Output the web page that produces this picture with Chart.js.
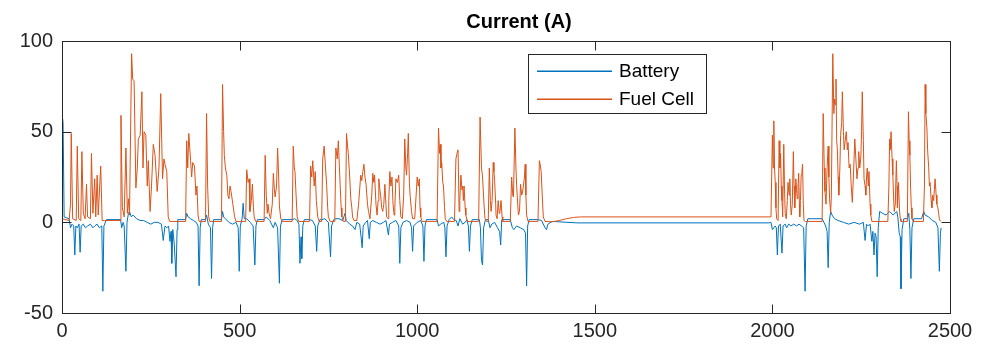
<!DOCTYPE html>
<html>
<head>
<meta charset="utf-8">
<script src="https://cdn.jsdelivr.net/npm/chart.js@4"></script>
<style>html,body{margin:0;padding:0;background:#fff}</style>
</head>
<body>
<canvas id="currentChart" width="997" height="347"></canvas>
<script>
// current traces (time, amps)
const fcTime = [0,20,24,26,30,40,43,47,53,56,60,65,69,72,80,83,87,92,95,99,102,109,113,120,165,166,170,175,180,184,187,190,196,199,203,208,212,215,220,225,228,231,236,240,243,248,252,257,262,268,273,278,283,287,290,295,299,303,
  348,351,354,357,362,365,368,373,377,380,383,386,404,407,410,413,416,449,452,455,457,460,464,467,470,473,476,481,486,490,
  517,520,524,527,529,533,536,539,541,545,569,572,575,578,580,583,587,592,595,598,600,604,607,610,612,616,620,648,651,654,656,659,662,666,
  697,700,703,706,710,713,716,720,724,731,734,738,742,745,748,750,755,768,771,775,778,781,783,786,788,792,798,801,804,806,810,813,816,818,822,
  830,835,841,844,847,850,853,856,860,863,867,872,875,878,880,884,887,890,892,895,897,900,903,906,909,912,914,918,920,923,926,929,932,935,937,940,944,948,951,954,958,962,965,968,970,973,975,978,980,984,987,993,997,1000,1003,1006,1008,1010,1014,
  1056,1060,1063,1065,1067,1069,1072,1074,1077,1079,1083,1105,1109,1112,1115,1118,1120,1123,1126,1128,1130,1132,1135,1137,1141,1173,1177,1181,1184,1188,1191,1195,
  1200,1203,1206,1208,1211,1214,1216,1218,1221,1222,1225,1228,1231,1233,1236,1239,1241,1262,1266,1269,1271,1275,1278,1280,1283,1285,1288,1291,1294,1296,1299,1302,1304,1306,1308,1312,1340,1344,1347,1349,1352,1355,1360,
  1380,1400,1420,1440,1460,1996,
  2000,2002,2004,2006,2008,2010,2012,2016,2019,2021,2023,2025,2027,2029,2032,2034,2036,2039,2042,2044,2047,2049,2051,2053,2056,2059,2061,2063,2066,2068,2070,2072,2074,2076,2077,2079,2081,2083,2085,2087,2089,2093,
  2140,2143,2146,2148,2151,2154,2157,2159,2161,2164,2166,2170,2173,2175,2177,2179,2181,2183,2185,2187,2190,2192,2195,2197,2200,2202,2205,2208,2211,2213,2216,2219,2222,2225,2228,2232,2235,2238,2241,2243,2246,2249,2251,2253,2256,2258,2261,2263,2265,2267,2270,2272,2275,2277,2280,
  2325,2328,2330,2332,2334,2337,2339,2341,2343,2346,2349,2351,2352,2355,2358,2360,2362,2380,2383,2385,2387,2389,2391,2393,2396,
  2425,2428,2430,2432,2435,2437,2440,2442,2444,2447,2449,2451,2454,2456,2458,2461,2463,2466,2468,2470,2473];
const fcCurrent = [2,1,10,49,2,1,42,2,1,39,5,2,21,3,2,38,5,24,3,26,4,31,1,1,1,59,8,3,41,5,13,4,93,79,78,19,30,46,48,72,30,50,48,20,34,6,20,43,37,17,30,71,24,35,32,28,3,0.5,
  0.5,45,30,49,34,25,33,31,15,20,4,0.5,0.5,60,20,3,0.5,0.5,76,50,37,30,26,15,13,20,17,10,3,0.5,
  0.5,29,22,24,6,12,21,8,3,0.5,0.5,37,15,5,10,5,2,10,27,18,14,20,41,25,9,2,0.5,0.5,42,30,28,15,3,0.5,
  0.5,31,25,34,20,28,12,3,0.5,0.5,35,42,30,21,8,3,0.5,0.5,41,35,45,30,21,8,3,0.5,0.5,49,42,38,25,13,8,3,1,
  1,10,26,23,28,32,25,21,10,6,2,15,27,22,26,10,4,12,24,18,15,8,6,10,21,10,3,2,12,28,20,25,10,4,8,24,22,26,12,3,2,15,46,30,26,38,49,22,15,6,2,2,15,25,20,24,8,3,0.5,
  0.5,52,38,43,30,33,22,20,8,2,0.5,0.5,35,38,40,6,12,26,18,20,12,20,8,4,0.5,0.5,58,30,25,10,2,0.5,
  0.5,30,12,6,12,33,28,23,10,4,2,12,5,6,12,3,0.5,0.5,25,15,14,52,30,20,10,4,6,21,15,16,20,25,32,15,4,0.5,0.5,34,31,28,15,3,0.5,
  0.3,1,2,2.7,3,3,
  48,30,56,30,22,8,2,1,45,30,38,20,12,3,43,20,5,2,12,22,15,24,10,4,10,39,20,8,24,18,13,20,27,10,3,12,26,28,32,10,1,0.5,
  0.5,60,30,17,10,30,42,25,13,5,15,93,60,68,65,79,45,40,25,15,30,48,55,72,50,40,45,50,40,44,30,32,20,11,25,46,35,24,30,39,30,36,50,72,45,24,20,15,25,30,20,28,10,4,0.5,
  0.5,20,46,40,50,35,26,15,6,10,34,20,8,22,6,2,0.5,0.5,61,45,37,20,8,2,0.5,
  0.5,20,76,60,52,40,30,20,22,12,8,15,12,18,24,15,10,8,5,2,0.5];

const batTime = [0,3,6,20,24,28,33,36,39,43,48,51,54,60,66,72,80,87,92,99,105,112,115,118,125,165,168,172,175,180,183,187,190,195,200,210,220,230,240,250,260,270,280,285,290,295,300,304,307,309,312,316,321,324,326,
  348,351,355,362,370,378,383,386,389,392,404,407,412,418,421,424,427,449,452,455,460,470,480,490,496,499,502,507,510,513,520,530,538,543,546,550,
  569,575,585,595,600,607,612,615,620,648,655,662,667,670,673,675,678,682,697,705,713,717,720,726,731,740,750,756,759,765,771,780,790,797,800,810,818,825,
  830,838,842,845,848,855,860,865,868,875,885,895,905,912,919,922,930,940,948,951,954,960,970,980,984,987,990,1000,1010,1016,1019,1022,1026,
  1056,1060,1066,1075,1078,1081,1084,1090,1097,1103,1110,1115,1120,1128,1135,1140,1144,1147,1150,1155,1175,1178,1181,1184,1187,1192,
  1200,1205,1210,1218,1226,1232,1235,1238,1262,1268,1272,1280,1290,1300,1305,1308,1311,1315,1340,1350,1360,1364,1368,1380,1450,1990,
  1996,2000,2004,2008,2011,2014,2017,2022,2027,2030,2036,2040,2046,2052,2060,2068,2075,2082,2088,2092,2095,2100,
  2140,2145,2150,2154,2157,2160,2164,2168,2175,2185,2200,2215,2230,2245,2256,2261,2265,2270,2275,2280,2283,2286,2289,2292,2295,2298,
  2302,2310,2320,2330,2340,2350,2353,2357,2360,2362,2365,2370,2380,2384,2387,2390,2393,2398,2420,2426,2430,2440,2450,2460,2466,2470,2473,2475];
const batCurrent = [60,55,3,2,-3,-1,-2,-18,-2,-3,-1,-16.5,-2,-1,-3,-2,-1,-3,-2,-1,-3,-2,-38,-2,1.5,1.5,-3,0,-2,-27,0,5,6,3,4,2,1,1,0,-1,0,0,-1,-10,-2,-3,-2,-10.5,-5,-22.6,-4,-12,-30,-4,1.5,
  1.5,5,3,2,1,0,-2,-35,-3,1.5,1.5,4,-1,-3,-31,-3,1.5,1.5,6,3,2,0,-1,0,-3,-27,-2,2,10.5,2,2,0,-2,-23.5,-2,1.5,
  1.5,3,1,-3,0,-3,-33.6,-2,1.5,1.5,2,1,-1,-22.6,-8,-20,-2,1.5,1.5,1,-2,-16,-2,1.5,1.5,2,0,-19,-2,1.5,2,2,1,5,1,-1,-2,-4,
  0,-1,-8,-14,-2,0,1,-9,0,1,0,-1,0,1,-7,-1,0,1,-2,-22.6,-3,0,1,0,-3,-16,-2,0,1,-2,-21.5,-2,1.5,
  1.5,-2,-1,0,-3,-19,-2,1.5,3,1.5,1,-2,2,-1,0,1.5,-2,-16,-2,1.5,1.5,-3,-21,-23.5,-3,1.5,
  1.5,-3,-1,0,-3,-5,-12.5,1.5,1.5,-3,-4,-2,-3,-4,-6,-35,-2,1.5,1.5,1,-3,-4,-1,0.5,-0.3,-0.3,
  0,-4,-3,-2,-3,-18,-2,-1,-17,-2,-1,-3,-1,-2,-1,-2,-1,-2,-3,-38,-2,2,
  2,0,-2,-5,-25,0,6,4,2,1,0,-1,0,-1,0,-10,-1,-2,-1,-10.5,-5,-18,-6,-8,-30,-3,
  6,5,4,6,4,6,3,-6,-8,-36.6,-4,2,2,5,-4,-31,-3,2,2,6,4,3,1,0,-3,-27,-6,-3];

const xTicks = [0, 500, 1000, 1500, 2000, 2500];
const yTicks = [-50, 0, 50, 100];

const axisColor = '#262626';
const batColor = '#0072BD';
const fcColor = '#D95319';
const fontFamily = '"Liberation Sans", Arial, sans-serif';

const toPoints = (ts, vs) => ts.map((t, i) => ({ x: t, y: vs[i] }));

// matlab-ish box, inward ticks, title and legend
const matlabAxes = {
  id: 'matlabAxes',
  afterDatasetsDraw(chart) {
    const { ctx, chartArea: a, scales } = chart;
    const L = Math.round(a.left) + 0.5, R = Math.round(a.right) + 0.5;
    const T = Math.round(a.top) + 0.5, B = Math.round(a.bottom) + 0.5;
    ctx.save();
    ctx.strokeStyle = axisColor;
    ctx.lineWidth = 1;
    ctx.strokeRect(L, T, R - L, B - T);
    ctx.beginPath();
    xTicks.forEach(v => {
      const px = Math.round(scales.x.getPixelForValue(v)) + 0.5;
      ctx.moveTo(px, B); ctx.lineTo(px, B - 9);
      ctx.moveTo(px, T); ctx.lineTo(px, T + 9);
    });
    yTicks.forEach(v => {
      const py = Math.round(scales.y.getPixelForValue(v)) + 0.5;
      ctx.moveTo(L, py); ctx.lineTo(L + 9, py);
      ctx.moveTo(R, py); ctx.lineTo(R - 9, py);
    });
    ctx.stroke();

    // title
    ctx.fillStyle = '#000';
    ctx.font = 'bold 20px ' + fontFamily;
    ctx.textAlign = 'center';
    ctx.textBaseline = 'alphabetic';
    ctx.fillText('Current (A)', 519, 28);

    // legend
    const lx = 528.5, ly = 54.5, lw = 178, lh = 59;
    ctx.fillStyle = '#fff';
    ctx.fillRect(lx, ly, lw, lh);
    ctx.strokeStyle = axisColor;
    ctx.strokeRect(lx, ly, lw, lh);
    ctx.font = '19px ' + fontFamily;
    ctx.textAlign = 'left';
    ctx.textBaseline = 'middle';
    const entries = [['Battery', batColor], ['Fuel Cell', fcColor]];
    entries.forEach((entry, i) => {
      const y = Math.round(ly + 16 + i * 28);
      ctx.fillStyle = entry[1];
      ctx.fillRect(537, y - 0.5, 75, 1.5);
      ctx.fillStyle = '#000';
      ctx.fillText(entry[0], 619, y + 1);
    });
    ctx.restore();
  }
};

new Chart(document.getElementById('currentChart').getContext('2d'), {
  type: 'line',
  data: {
    datasets: [
      {
        label: 'Fuel Cell',
        data: toPoints(fcTime, fcCurrent),
        borderColor: fcColor,
        borderWidth: 1,
        pointRadius: 0,
        tension: 0
      },
      {
        label: 'Battery',
        data: toPoints(batTime, batCurrent),
        borderColor: batColor,
        borderWidth: 1,
        pointRadius: 0,
        tension: 0
      }
    ]
  },
  options: {
    responsive: false,
    animation: false,
    layout: { padding: { top: 41, right: 47, left: 0, bottom: 0 } },
    plugins: { legend: { display: false }, tooltip: { enabled: false } },
    scales: {
      x: {
        type: 'linear',
        min: 0,
        max: 2500,
        afterBuildTicks: s => { s.ticks = xTicks.map(v => ({ value: v })); },
        afterFit: s => { s.height = 34; },
        grid: { display: false, drawTicks: false },
        border: { display: false },
        ticks: { color: axisColor, padding: 6, maxRotation: 0, callback: v => String(v), font: { size: 20, family: fontFamily } }
      },
      y: {
        min: -50,
        max: 100,
        afterBuildTicks: s => { s.ticks = yTicks.map(v => ({ value: v })); },
        afterFit: s => { s.width = 62; },
        grid: { display: false, drawTicks: false },
        border: { display: false },
        ticks: { color: axisColor, padding: 9, callback: v => String(v), font: { size: 20, family: fontFamily } }
      }
    }
  },
  plugins: [matlabAxes]
});
</script>
</body>
</html>
